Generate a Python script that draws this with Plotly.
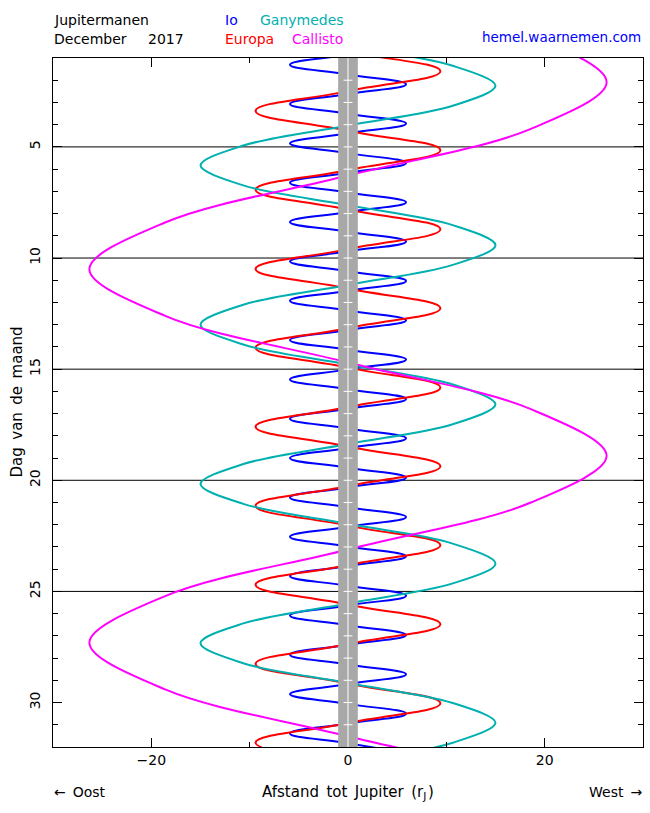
import plotly.graph_objects as go

# ---- data (day of December 2017, distance in Jupiter radii) ----
# Io
io_amp = 5.9
io_west = [0.41, 2.18, 3.95, 5.72, 7.49, 9.26, 11.03, 12.80, 14.57, 16.34, 18.11, 19.88,
           21.65, 23.42, 25.19, 26.96, 28.73, 30.50, 32.27]
io_east = [1.30, 3.07, 4.84, 6.61, 8.38, 10.15, 11.92, 13.69, 15.46, 17.23, 19.00, 20.77,
           22.54, 24.31, 26.08, 27.85, 29.62, 31.39]
io_conj = [0.85, 1.74, 2.62, 3.51, 4.39, 5.28, 6.16, 7.05, 7.93, 8.82, 9.70, 10.59, 11.47,
           12.36, 13.24, 14.13, 15.01, 15.90, 16.78, 17.67, 18.55, 19.44, 20.32, 21.21,
           22.09, 22.98, 23.86, 24.75, 25.63, 26.52, 27.40, 28.29, 29.17, 30.06, 30.94, 31.83]

# Europa
eu_amp = 9.4
eu_west = [1.60, 5.15, 8.71, 12.26, 15.82, 19.37, 22.92, 26.48, 30.03]
eu_east = [-0.18, 3.38, 6.93, 10.49, 14.04, 17.59, 21.15, 24.70, 28.26, 31.81]
eu_conj = [0.71, 2.49, 4.27, 6.04, 7.82, 9.60, 11.37, 13.15, 14.93, 16.70, 18.48, 20.26,
           22.04, 23.81, 25.59, 27.37, 29.14, 30.92, 32.70]

# Ganymedes
ga_amp = 15.0
ga_west = [2.25, 9.42, 16.58, 23.75, 30.91]
ga_east = [-1.33, 5.83, 13.00, 20.17, 27.33]
ga_conj = [0.46, 4.04, 7.62, 11.21, 14.79, 18.37, 21.96, 25.54, 29.12, 32.71]
ga_half = 10.65                      # distance half-way (in time) between elongation and conjunction
ga_half_w = [1.35, 3.15, 8.52, 10.31, 15.69, 17.48, 22.85, 24.64, 30.02, 31.81]
ga_half_e = [-0.44, 4.94, 6.73, 12.10, 13.89, 19.27, 21.06, 26.44, 28.23]

# Callisto
ca_amp = 26.3
ca_west = [2.09, 18.90, 35.71]
ca_east = [10.50, 27.31]
ca_conj = [-2.11, 6.29, 14.70, 23.11, 31.52]
ca_half = 18.6
ca_half_w = [-0.01, 4.19, 16.80, 21.00, 33.62]
ca_half_e = [8.40, 12.60, 25.21, 29.41]

grid_days = [5, 10, 15, 20, 25]
band_tick_days = list(range(2, 32))

FONT = "DejaVu Sans"
SP = "\u2002"   # wider word space (plotter font has wide spaces)


def key_points(west, east, conj, amp, half=None, half_w=(), half_e=()):
    pts = [(t, amp) for t in west] + [(t, -amp) for t in east] + [(t, 0.0) for t in conj]
    if half is not None:
        pts += [(t, half) for t in half_w] + [(t, -half) for t in half_e]
    pts.sort()
    return [p[1] for p in pts], [p[0] for p in pts]


moons = [
    ("Io", key_points(io_west, io_east, io_conj, io_amp), "#0000ff", 1.3),
    ("Europa", key_points(eu_west, eu_east, eu_conj, eu_amp), "#ff0000", 1.3),
    ("Ganymedes", key_points(ga_west, ga_east, ga_conj, ga_amp, ga_half, ga_half_w, ga_half_e),
     "#00b0b0", 1.0),
    ("Callisto", key_points(ca_west, ca_east, ca_conj, ca_amp, ca_half, ca_half_w, ca_half_e),
     "#ff00ff", 1.0),
]

fig = go.Figure()
for name, (xs, ts), col, sm in moons:
    fig.add_trace(go.Scatter(x=xs, y=ts, mode="lines", name=name,
                             line=dict(color=col, width=2, shape="spline", smoothing=sm),
                             hoverinfo="skip"))

shapes = []
for d in grid_days:
    shapes.append(dict(type="line", xref="paper", x0=0, x1=1, yref="y", y0=d, y1=d,
                       line=dict(color="black", width=1), layer="below"))
shapes.append(dict(type="rect", xref="x", x0=-1, x1=1, yref="paper", y0=0, y1=1,
                   fillcolor="#a8a8a8", line=dict(width=0), layer="above"))
shapes.append(dict(type="line", xref="x", x0=0, x1=0, yref="paper", y0=0, y1=1,
                   line=dict(color="white", width=1), layer="above"))
for d in band_tick_days:
    shapes.append(dict(type="line", xref="x", x0=-0.45, x1=0.45, yref="y", y0=d, y1=d,
                       line=dict(color="white", width=1), layer="above"))


def ann(text, x, y, xanchor="left", color="black", angle=0, size=14):
    return dict(text=text, x=x, y=y, xref="paper", yref="paper", xanchor=xanchor,
                yanchor="middle", showarrow=False, textangle=angle,
                font=dict(family=FONT, size=size, color=color))


W0, H0 = 590.0, 689.0
def px(x):
    return (x - 53) / W0
def py(y):
    return (747 - y) / H0

annotations = [
    ann("Jupitermanen", px(52), py(20)),
    ann("December", px(52), py(39)),
    ann("2017", px(146), py(39)),
    ann("Io", px(223), py(20), color="#0000ff"),
    ann("Ganymedes", px(258), py(20), color="#00b0b0"),
    ann("Europa", px(223), py(39), color="#ff0000"),
    ann("Callisto", px(290), py(39), color="#ff00ff"),
    ann("hemel.waarnemen.com", px(643), py(37), xanchor="right", color="#0000ff", size=13.5),
    ann("←" + SP + "Oost", px(52), py(792)),
    ann("Afstand" + SP + "tot" + SP + "Jupiter" + SP + "(r<sub>J</sub>\u200a)",
        0.5, py(792), xanchor="center", size=15),
    ann("West" + SP + "→", px(644), py(792), xanchor="right"),
    ann("Dag" + SP + "van" + SP + "de" + SP + "maand", px(16), 0.5, xanchor="center",
        angle=-90, size=15),
]

fig.update_layout(
    width=650, height=813,
    margin=dict(l=53, r=7, t=58, b=66),
    paper_bgcolor="white", plot_bgcolor="white",
    showlegend=False,
    shapes=shapes,
    annotations=annotations,
    font=dict(family=FONT, size=14, color="black"),
    xaxis=dict(range=[-30, 30], showgrid=False, zeroline=False,
               showline=True, linecolor="black", linewidth=1, mirror="ticks",
               ticks="inside", ticklen=9, tickcolor="black", tickwidth=1,
               tick0=0, dtick=20,
               minor=dict(dtick=10, ticks="inside", ticklen=5, tickcolor="black", tickwidth=1),
               tickfont=dict(family=FONT, size=14)),
    yaxis=dict(range=[32, 1], showgrid=False, zeroline=False,
               showline=True, linecolor="black", linewidth=1, mirror="ticks",
               ticks="inside", ticklen=9, tickcolor="black", tickwidth=1,
               tick0=0, dtick=5, tickangle=-90, ticklabelstandoff=6,
               minor=dict(dtick=1, ticks="inside", ticklen=5, tickcolor="black", tickwidth=1),
               tickfont=dict(family=FONT, size=14)),
)

fig.write_html("out.html")
